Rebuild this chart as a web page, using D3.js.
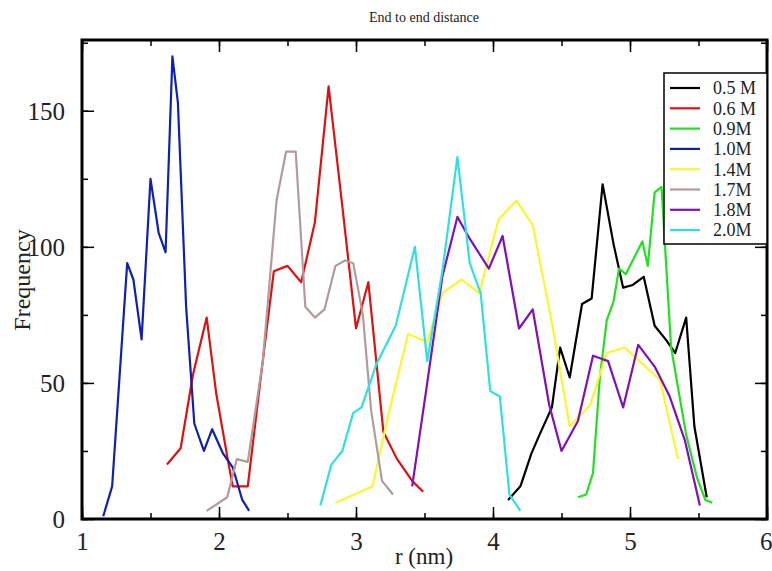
<!DOCTYPE html>
<html>
<head>
<meta charset="utf-8">
<script src="https://cdn.jsdelivr.net/npm/d3@7"></script>
<style>
  body { margin: 0; background: #fff; }
  svg text { font-family: "Liberation Serif", "Times New Roman", Tinos, "Nimbus Roman", "DejaVu Serif", serif !important; }
</style>
</head>
<body>
<script>
// series: [r (nm), frequency]
const s05 = [[4.11,7],[4.20,12],[4.28,24],[4.34,31],[4.43,41],[4.49,63],[4.56,52],[4.65,79],[4.72,81],[4.80,123],[4.88,101],[4.95,85],[5.02,86],[5.10,89],[5.18,71],[5.26,66],[5.33,61],[5.41,74],[5.47,34],[5.56,8]]
const s06 = [[1.62,20],[1.72,26],[1.81,53],[1.91,74],[1.98,46],[2.06,23],[2.10,12],[2.21,12],[2.30,50],[2.40,91],[2.50,93],[2.60,87],[2.70,109],[2.80,159],[2.90,115],[3.00,70],[3.09,87],[3.20,32],[3.30,22],[3.41,14],[3.49,10]]
const s09 = [[4.62,8],[4.68,9],[4.73,17],[4.78,52],[4.83,73],[4.88,80],[4.92,92],[4.97,90],[5.09,102],[5.13,93],[5.18,120],[5.23,122],[5.30,63],[5.41,31],[5.49,15],[5.55,7],[5.60,6]]
const s10 = [[1.155,1],[1.22,12],[1.33,94],[1.375,88],[1.435,66],[1.50,125],[1.56,105],[1.61,98],[1.66,170],[1.70,153],[1.76,78],[1.82,35],[1.89,25],[1.95,33],[2.03,24],[2.10,19],[2.17,7],[2.22,3]]
const s14 = [[2.85,6],[2.99,9],[3.12,12],[3.24,39],[3.38,68],[3.52,65],[3.63,83],[3.77,88],[3.90,83],[4.04,110],[4.17,117],[4.29,108],[4.43,72],[4.56,34],[4.71,42],[4.83,61],[4.96,63],[5.09,57],[5.22,51],[5.35,22]]
const s17 = [[1.91,3],[2.06,8],[2.13,22],[2.21,21],[2.32,58],[2.42,117],[2.49,135],[2.56,135],[2.63,78],[2.70,74],[2.77,77],[2.85,93],[2.92,95],[2.98,94],[3.05,75],[3.11,40],[3.19,14],[3.27,9]]
const s18 = [[3.41,12],[3.52,50],[3.63,89],[3.74,111],[3.83,103],[3.97,92],[4.07,104],[4.19,70],[4.29,77],[4.41,42],[4.50,25],[4.62,36],[4.73,60],[4.84,58],[4.95,41],[5.06,64],[5.18,56],[5.29,45],[5.40,29],[5.51,5]]
const s20 = [[2.74,5],[2.82,20],[2.90,25],[2.98,39],[3.04,41],[3.15,57],[3.29,71],[3.43,100],[3.52,58],[3.63,91],[3.74,133],[3.83,94],[3.91,83],[3.98,47],[4.05,45],[4.12,9],[4.20,3]]

const labels = ['0.5 M','0.6 M','0.9M','1.0M','1.4M','1.7M','1.8M','2.0M']
const colors = ['#000000','#e01010','#22e022','#1020b0','#f8f830','#b09c9c','#8010b8','#30e0e0']
const seriesList = [s05,s06,s09,s10,s14,s17,s18,s20]
const xTicks = [1,2,3,4,5,6]
const yTicks = [0,50,100,150]

const W = 772, H = 571
const mLeft = 82, mRight = 767, mTop = 40, mBottom = 519

const svg = d3.select('body').append('svg').attr('width',W).attr('height',H)

const x = d3.scaleLinear().domain([1,6]).range([mLeft,mRight])
const y = d3.scaleLinear().domain([0,176]).range([mBottom,mTop])

// minor ticks (inward, all four sides)
const minorX = d3.range(1,6.01,0.5), minorY = d3.range(0,176,25)
svg.append('g').attr('transform',`translate(0,${mBottom})`)
  .call(d3.axisBottom(x).tickValues(minorX).tickSize(-6).tickFormat(''))
svg.append('g').attr('transform',`translate(0,${mTop})`)
  .call(d3.axisTop(x).tickValues(minorX).tickSize(-6).tickFormat(''))
svg.append('g').attr('transform',`translate(${mLeft},0)`)
  .call(d3.axisLeft(y).tickValues(minorY).tickSize(-6).tickFormat(''))
svg.append('g').attr('transform',`translate(${mRight},0)`)
  .call(d3.axisRight(y).tickValues(minorY).tickSize(-6).tickFormat(''))

// major ticks with labels
const xa = svg.append('g').attr('transform',`translate(0,${mBottom})`)
  .call(d3.axisBottom(x).tickValues(xTicks).tickSize(-12).tickPadding(20).tickFormat(d3.format('d')))
const ya = svg.append('g').attr('transform',`translate(${mLeft},0)`)
  .call(d3.axisLeft(y).tickValues(yTicks).tickSize(-12).tickPadding(17).tickFormat(d3.format('d')))
svg.append('g').attr('transform',`translate(0,${mTop})`)
  .call(d3.axisTop(x).tickValues(xTicks).tickSize(-12).tickFormat(''))
svg.append('g').attr('transform',`translate(${mRight},0)`)
  .call(d3.axisRight(y).tickValues(yTicks).tickSize(-12).tickFormat(''))

svg.selectAll('.domain').remove()
svg.selectAll('.tick line').attr('stroke','#000').attr('stroke-width',1.5)
svg.selectAll('.tick text').attr('fill','#222').style('font-size','25px')
ya.selectAll('.tick text').attr('dy','0.35em')
xa.selectAll('.tick text').attr('dy','0.45em')
// keep the last label inside the page edge
xa.selectAll('.tick text').filter(d => d === 6).attr('text-anchor','end').attr('dx','5')

// curves
const line = d3.line().x(d => x(d[0])).y(d => y(d[1]))
svg.append('g').selectAll('path')
  .data(seriesList)
  .join('path')
  .attr('d',line)
  .attr('fill','none')
  .attr('stroke',(d,i) => colors[i])
  .attr('stroke-width',2.2)
  .attr('stroke-linejoin','round')

// frame
svg.append('rect')
  .attr('x',mLeft).attr('y',mTop).attr('width',mRight-mLeft).attr('height',mBottom-mTop)
  .attr('fill','none').attr('stroke','#000').attr('stroke-width',3)

// legend
const lg = svg.append('g')
lg.append('rect').attr('x',664).attr('y',73).attr('width',mRight-664).attr('height',171)
  .attr('fill','#fff').attr('stroke','#000').attr('stroke-width',1.5)
labels.forEach((t,i) => {
  const ly = 88 + i*20.3
  lg.append('line').attr('x1',670).attr('x2',700).attr('y1',ly).attr('y2',ly)
    .attr('stroke',colors[i]).attr('stroke-width',2.2)
  lg.append('text').attr('x',713).attr('y',ly).attr('dy','0.35em')
    .style('font-size','18px').attr('fill','#222').text(t)
})

// titles
svg.append('text').attr('x',424).attr('y',22).attr('text-anchor','middle')
  .style('font-size','14px').attr('fill','#222').text('End to end distance')
svg.append('text').attr('x',424).attr('y',564).attr('text-anchor','middle')
  .style('font-size','23px').attr('fill','#222').text('r (nm)')
svg.append('text').attr('transform','translate(30,280) rotate(-90)').attr('text-anchor','middle')
  .style('font-size','24px').attr('fill','#222').text('Frequency')
</script>
</body>
</html>
